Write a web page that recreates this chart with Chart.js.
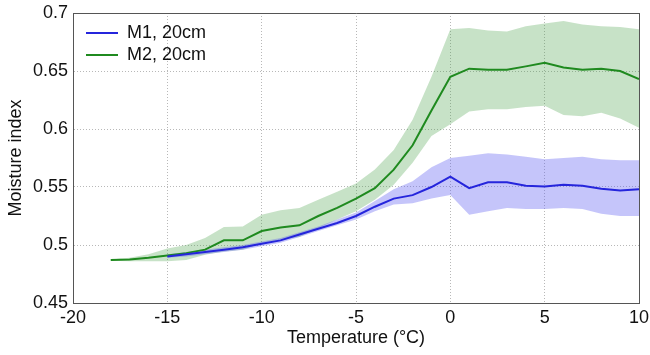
<!DOCTYPE html>
<html>
<head>
<meta charset="utf-8">
<script src="https://cdn.jsdelivr.net/npm/chart.js@4.4.0/dist/chart.umd.min.js"></script>
<style>
    html, body { margin: 0; padding: 0; background: #fff; }
</style>
</head>
<body>
<canvas id="chart" width="650" height="355"></canvas>
<script>
// temperature steps (°C)
const temps = [-18, -17, -16, -15, -14, -13, -12, -11, -10, -9, -8, -7, -6, -5, -4, -3, -2, -1, 0, 1, 2, 3, 4, 5, 6, 7, 8, 9, 10];

// M1, 20cm (mean and spread) - starts at -15
const m1Mean = [null, null, null, 0.490, 0.492, 0.494, 0.496, 0.498, 0.501, 0.504, 0.509, 0.514, 0.519, 0.525, 0.533, 0.540, 0.543, 0.550, 0.559, 0.549, 0.554, 0.554, 0.551, 0.5505, 0.552, 0.551, 0.5485, 0.547, 0.548];
const m1Upper = [null, null, null, 0.492, 0.494, 0.496, 0.498, 0.500, 0.503, 0.506, 0.511, 0.516, 0.522, 0.528, 0.538, 0.548, 0.555, 0.567, 0.575, 0.577, 0.579, 0.578, 0.576, 0.574, 0.575, 0.576, 0.574, 0.573, 0.573];
const m1Lower = [null, null, null, 0.489, 0.490, 0.492, 0.494, 0.496, 0.499, 0.502, 0.507, 0.512, 0.517, 0.522, 0.529, 0.535, 0.536, 0.540, 0.543, 0.526, 0.529, 0.532, 0.531, 0.531, 0.532, 0.531, 0.527, 0.525, 0.525];

// M2, 20cm
const m2Mean = [0.487, 0.4875, 0.489, 0.491, 0.493, 0.496, 0.504, 0.504, 0.512, 0.515, 0.517, 0.525, 0.532, 0.540, 0.549, 0.565, 0.586, 0.616, 0.645, 0.652, 0.651, 0.651, 0.654, 0.657, 0.653, 0.651, 0.652, 0.650, 0.643];
const m2Upper = [0.4875, 0.489, 0.492, 0.497, 0.500, 0.506, 0.5155, 0.516, 0.526, 0.530, 0.532, 0.539, 0.546, 0.553, 0.565, 0.582, 0.608, 0.645, 0.686, 0.687, 0.685, 0.684, 0.6885, 0.691, 0.693, 0.690, 0.6885, 0.688, 0.686];
const m2Lower = [0.4865, 0.486, 0.486, 0.486, 0.487, 0.4915, 0.4945, 0.496, 0.5015, 0.5045, 0.507, 0.5145, 0.522, 0.529, 0.539, 0.552, 0.571, 0.594, 0.604, 0.615, 0.617, 0.617, 0.619, 0.620, 0.612, 0.611, 0.614, 0.609, 0.601];

const FONT = "'Liberation Sans', Arial, sans-serif";

function pts(values) {
    return temps.map((t, i) => ({ x: t, y: values[i] }));
}

function band(values, fill, color) {
    return {
        label: '',
        data: pts(values),
        borderWidth: 0,
        pointRadius: 0,
        backgroundColor: color,
        fill: fill
    };
}

// nudge the in-plot legend to where the original sits
const legendNudge = {
    id: 'legendNudge',
    afterLayout(chart) {
        chart.legend.left = chart.chartArea.left + 9;
        chart.legend.top = chart.chartArea.top + 7;
    }
};

const ctx = document.getElementById('chart');

new Chart(ctx, {
    type: 'line',
    data: {
        datasets: [
            { label: 'M1, 20cm', data: pts(m1Mean), borderColor: '#2525dc', backgroundColor: '#2525dc', borderWidth: 2, pointRadius: 0, fill: false },
            { label: 'M2, 20cm', data: pts(m2Mean), borderColor: '#1f8a1f', backgroundColor: '#1f8a1f', borderWidth: 2, pointRadius: 0, fill: false },
            band(m1Upper, '+1', 'rgba(95,95,240,0.36)'),
            band(m1Lower, false, 'rgba(0,0,0,0)'),
            band(m2Upper, '+1', 'rgba(70,160,70,0.3)'),
            band(m2Lower, false, 'rgba(0,0,0,0)')
        ]
    },
    options: {
        responsive: false,
        animation: false,
        layout: { padding: 0 },
        plugins: {
            legend: {
                position: 'chartArea',
                align: 'start',
                labels: {
                    usePointStyle: true,
                    pointStyle: 'line',
                    pointStyleWidth: 32,
                    padding: 4,
                    color: '#111',
                    font: { family: FONT, size: 18 },
                    filter: item => item.text !== ''
                }
            },
            tooltip: { enabled: false }
        },
        scales: {
            x: {
                type: 'linear',
                min: -20,
                max: 10,
                ticks: { stepSize: 5, padding: 4, color: '#111', font: { family: FONT, size: 18 } },
                grid: { color: '#b8b8b8', drawTicks: false },
                border: { color: '#555', width: 1, dash: [1, 2] },
                title: { display: true, text: 'Temperature (°C)', color: '#111', font: { family: FONT, size: 18 }, padding: { top: 0, bottom: 6 } },
                afterFit(scale) {
                    scale.height = 52;
                    scale.paddingLeft = 0;
                    scale.paddingRight = 11;
                }
            },
            y: {
                min: 0.45,
                max: 0.7,
                ticks: {
                    stepSize: 0.05,
                    padding: 5,
                    color: '#111',
                    font: { family: FONT, size: 18 },
                    callback: v => String(parseFloat(v.toFixed(2)))
                },
                grid: { color: '#b8b8b8', drawTicks: false },
                border: { color: '#555', width: 1, dash: [1, 2] },
                title: { display: true, text: 'Moisture index', color: '#111', font: { family: FONT, size: 18 }, padding: { top: 5, bottom: 0 } },
                afterFit(scale) {
                    scale.width = 73;
                    scale.paddingTop = 13;
                    scale.paddingBottom = 0;
                }
            },
            x2: {
                type: 'linear',
                position: 'top',
                min: -20,
                max: 10,
                ticks: { display: false },
                grid: { display: false, drawTicks: false },
                border: { color: '#555', width: 1 }
            },
            y2: {
                position: 'right',
                min: 0.45,
                max: 0.7,
                ticks: { display: false },
                grid: { display: false, drawTicks: false },
                border: { color: '#555', width: 1 }
            }
        }
    },
    plugins: [legendNudge]
});
</script>
</body>
</html>
